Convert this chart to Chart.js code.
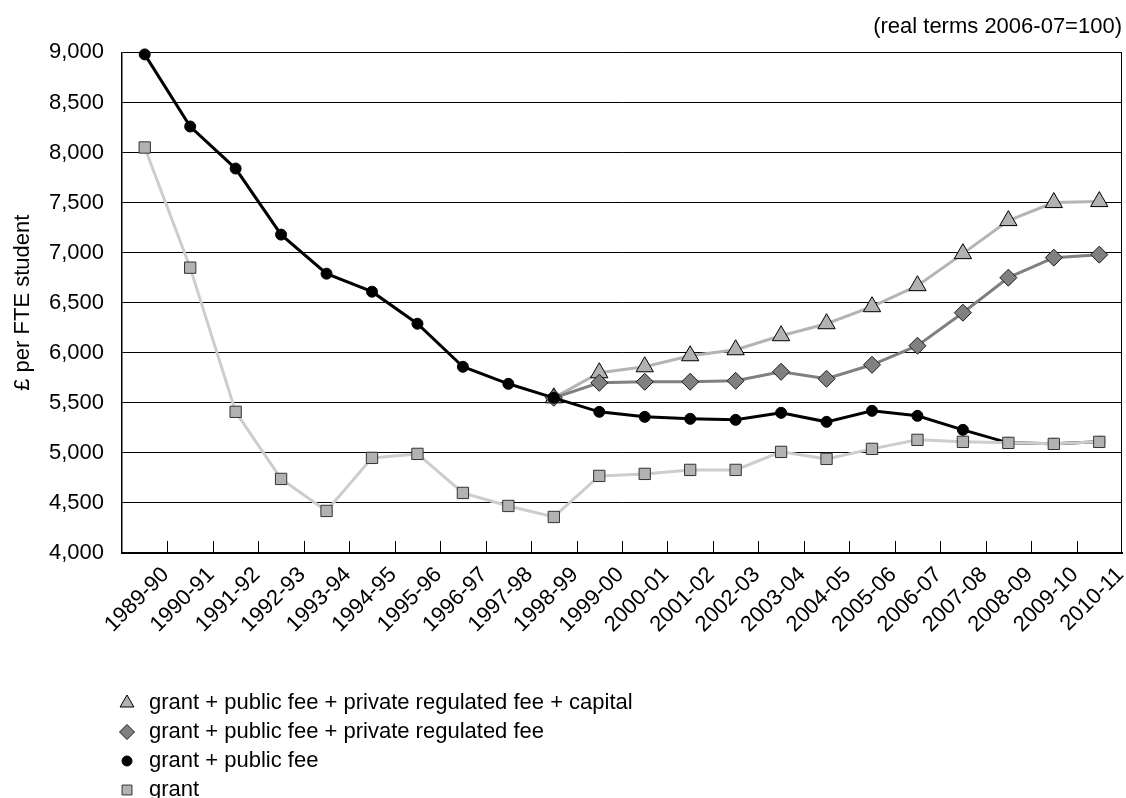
<!DOCTYPE html>
<html>
<head>
<meta charset="utf-8">
<script src="https://cdn.jsdelivr.net/npm/chart.js@4/dist/chart.umd.min.js"></script>
<style>
  html, body { margin: 0; padding: 0; background: #ffffff; }
  #wrap { width: 1126px; height: 798px; }
</style>
</head>
<body>
<div id="wrap"><canvas id="c" width="1126" height="798"></canvas></div>
<script>
// Academic years on the category axis
const years = ['1989-90', '1990-91', '1991-92', '1992-93', '1993-94', '1994-95', '1995-96',
  '1996-97', '1997-98', '1998-99', '1999-00', '2000-01', '2001-02', '2002-03', '2003-04',
  '2004-05', '2005-06', '2006-07', '2007-08', '2008-09', '2009-10', '2010-11'];

// £ per FTE student, real terms (2006-07 = 100)
const withCapital = [null, null, null, null, null, null, null, null, null,
  5550, 5800, 5860, 5970, 6030, 6170, 6290, 6460, 6670, 6990, 7320, 7500, 7510];
const withPrivateFee = [null, null, null, null, null, null, null, null, null,
  5550, 5700, 5710, 5710, 5720, 5810, 5740, 5880, 6070, 6400, 6750, 6950, 6980];
const grantPublicFee = [8980, 8260, 7840, 7180, 6790, 6610, 6290, 5860, 5690, 5550, 5410,
  5360, 5340, 5330, 5400, 5310, 5420, 5370, 5230, 5100, 5090, 5110];
const grantOnly = [8050, 6850, 5410, 4740, 4420, 4950, 4990, 4600, 4470, 4360, 4770,
  4790, 4830, 4830, 5010, 4940, 5040, 5130, 5110, 5100, 5090, 5110];

const seriesNames = [
  'grant + public fee + private regulated fee + capital',
  'grant + public fee + private regulated fee',
  'grant + public fee',
  'grant'
];

const yTicks = { min: 4000, max: 9000, step: 500 };
const FONT = "'Liberation Sans', Arial, sans-serif";
const FONT_SIZE = 22;

// Inner tick marks between categories plus the right-hand frame line
const frameTicks = {
  id: 'frameTicks',
  beforeDatasetsDraw(chart) {
    const { ctx, chartArea } = chart;
    const x = chart.scales.x;
    ctx.save();
    ctx.strokeStyle = '#000';
    ctx.lineWidth = 1;
    ctx.beginPath();
    for (let i = 1; i < years.length; i++) {
      const px = Math.round((x.getPixelForValue(i - 1) + x.getPixelForValue(i)) / 2) + 0.5;
      ctx.moveTo(px, chartArea.bottom);
      ctx.lineTo(px, chartArea.bottom - 12);
    }
    const rx = Math.round(chartArea.right) - 0.5;
    ctx.moveTo(rx, chartArea.top);
    ctx.lineTo(rx, chartArea.bottom);
    ctx.stroke();
    ctx.restore();
  }
};

// Vertical legend under the axis labels
const stackedLegend = {
  id: 'stackedLegend',
  afterDraw(chart) {
    const { ctx } = chart;
    const dsets = chart.data.datasets;
    ctx.save();
    dsets.forEach((ds, i) => {
      const y = 703 + i * 29;
      const mx = 127;
      ctx.fillStyle = ds.pointBackgroundColor;
      ctx.strokeStyle = ds.pointBorderColor;
      ctx.lineWidth = 1;
      const opts = { pointStyle: ds.pointStyle, radius: ds.legendRadius, rotation: 0, borderWidth: 1 };
      if (Chart.helpers && Chart.helpers.drawPoint) {
        Chart.helpers.drawPoint(ctx, opts, mx, y);
      }
      ctx.fillStyle = '#000';
      ctx.font = FONT_SIZE + 'px ' + FONT;
      ctx.textAlign = 'left';
      ctx.textBaseline = 'middle';
      ctx.fillText(ds.label, 149, y);
    });
    ctx.restore();
  }
};

new Chart(document.getElementById('c'), {
  type: 'line',
  data: {
    labels: years,
    datasets: [
      {
        label: seriesNames[0], data: withCapital, order: 4, clip: false,
        borderColor: '#b4b4b4', borderWidth: 3,
        pointStyle: 'triangle', pointRadius: 10, legendRadius: 8,
        pointBackgroundColor: '#b2b2b2', pointBorderColor: '#000', pointBorderWidth: 1
      },
      {
        label: seriesNames[1], data: withPrivateFee, order: 3, clip: false,
        borderColor: '#808080', borderWidth: 3,
        pointStyle: 'rectRot', pointRadius: 8.5, legendRadius: 7.5,
        pointBackgroundColor: '#808080', pointBorderColor: '#1a1a1a', pointBorderWidth: 1
      },
      {
        label: seriesNames[2], data: grantPublicFee, order: 2, clip: false,
        borderColor: '#000', borderWidth: 3,
        pointStyle: 'circle', pointRadius: 5.5, legendRadius: 5,
        pointBackgroundColor: '#000', pointBorderColor: '#000', pointBorderWidth: 1
      },
      {
        label: seriesNames[3], data: grantOnly, order: 1, clip: false,
        borderColor: '#cdcdcd', borderWidth: 3,
        pointStyle: 'rect', pointRadius: 8, legendRadius: 7,
        pointBackgroundColor: '#b2b2b2', pointBorderColor: '#333', pointBorderWidth: 1
      }
    ]
  },
  options: {
    responsive: false,
    devicePixelRatio: 1,
    animation: false,
    spanGaps: false,
    elements: { line: { tension: 0 } },
    layout: { autoPadding: false, padding: { left: 0, right: 4, top: 0, bottom: 0 } },
    scales: {
      x: {
        type: 'category',
        offset: true,
        grid: { display: true, drawOnChartArea: false, drawTicks: false, offset: true },
        border: { display: true, color: '#000', width: 2 },
        ticks: {
          autoSkip: false, minRotation: 45, maxRotation: 45,
          labelOffset: 21, padding: 9,
          color: '#000', font: { family: FONT, size: FONT_SIZE }
        },
        afterFit(s) { s.height = 245; s.paddingLeft = 0; s.paddingRight = 0; }
      },
      y: {
        min: yTicks.min, max: yTicks.max,
        grid: { color: '#000', lineWidth: 1, drawTicks: false },
        border: { display: true, color: '#000', width: 1.5 },
        ticks: {
          stepSize: yTicks.step, padding: 18,
          color: '#000', font: { family: FONT, size: FONT_SIZE }
        },
        title: {
          display: true, text: '£ per FTE student', color: '#000',
          font: { family: FONT, size: FONT_SIZE }, padding: { top: 10, bottom: 0 }
        },
        afterFit(s) { s.width = 122; }
      }
    },
    plugins: {
      legend: { display: false },
      tooltip: { enabled: false },
      title: {
        display: true, text: '(real terms 2006-07=100)', align: 'end', color: '#000',
        font: { family: FONT, size: FONT_SIZE, weight: 'normal' },
        padding: { top: 14, bottom: 12 }
      }
    }
  },
  plugins: [frameTicks, stackedLegend]
});
</script>
</body>
</html>
